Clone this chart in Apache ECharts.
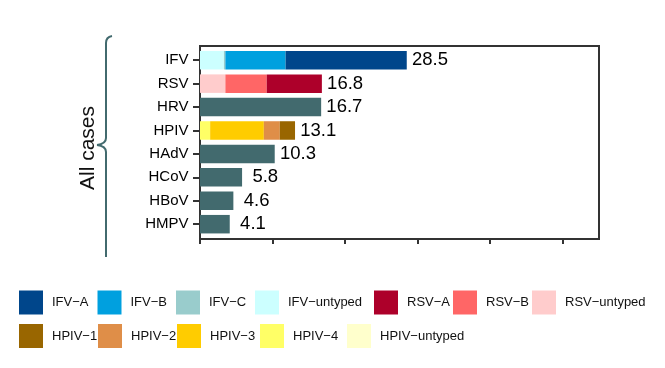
<!DOCTYPE html>
<html>
<head>
<meta charset="utf-8">
<script src="https://cdn.jsdelivr.net/npm/echarts@6/dist/echarts.min.js"></script>
<style>html,body{margin:0;padding:0;background:#fff}#c{width:665px;height:368px}</style>
</head>
<body>
<div id="c"></div>
<script>
var categories = ['IFV', 'RSV', 'HRV', 'HPIV', 'HAdV', 'HCoV', 'HBoV', 'HMPV'];
var totals = [28.5, 16.8, 16.7, 13.1, 10.3, 5.8, 4.6, 4.1];
var xTicks = [0, 10, 20, 30, 40, 50];
var xMax = 55;

var ifvUntyped = [3.3, null, null, null, null, null, null, null];
var ifvC = [0.2, null, null, null, null, null, null, null];
var ifvB = [8.3, null, null, null, null, null, null, null];
var ifvA = [16.7, null, null, null, null, null, null, null];
var rsvUntyped = [null, 3.5, null, null, null, null, null, null];
var rsvB = [null, 5.7, null, null, null, null, null, null];
var rsvA = [null, 7.6, null, null, null, null, null, null];
var hpivUntyped = [null, null, null, 0, null, null, null, null];
var hpiv4 = [null, null, null, 1.4, null, null, null, null];
var hpiv3 = [null, null, null, 7.4, null, null, null, null];
var hpiv2 = [null, null, null, 2.2, null, null, null, null];
var hpiv1 = [null, null, null, 2.1, null, null, null, null];
var others = [null, null, 16.7, null, 10.3, 5.8, 4.6, 4.1];

var legendRow1 = ['IFV\u2212A', 'IFV\u2212B', 'IFV\u2212C', 'IFV\u2212untyped', 'RSV\u2212A', 'RSV\u2212B', 'RSV\u2212untyped'];
var legendRow2 = ['HPIV\u22121', 'HPIV\u22122', 'HPIV\u22123', 'HPIV\u22124', 'HPIV\u2212untyped'];

var FONT = 'Liberation Sans, Arial, Helvetica, sans-serif';
var colors = {
  'IFV\u2212A': '#00468B', 'IFV\u2212B': '#00A0DF', 'IFV\u2212C': '#99CCCC', 'IFV\u2212untyped': '#CCFFFF',
  'RSV\u2212A': '#AD002A', 'RSV\u2212B': '#FF6666', 'RSV\u2212untyped': '#FFCCCC',
  'HPIV\u22121': '#996600', 'HPIV\u22122': '#DF8E48', 'HPIV\u22123': '#FFCC00', 'HPIV\u22124': '#FFFF66', 'HPIV\u2212untyped': '#FFFFCC',
  'other': '#426A6E'
};

var stackSeries = [
  ['IFV\u2212untyped', ifvUntyped], ['IFV\u2212C', ifvC], ['IFV\u2212B', ifvB], ['IFV\u2212A', ifvA],
  ['RSV\u2212untyped', rsvUntyped], ['RSV\u2212B', rsvB], ['RSV\u2212A', rsvA],
  ['HPIV\u2212untyped', hpivUntyped], ['HPIV\u22124', hpiv4], ['HPIV\u22123', hpiv3], ['HPIV\u22122', hpiv2], ['HPIV\u22121', hpiv1],
  ['other', others]
];

var series = stackSeries.map(function (s) {
  return {
    name: s[0], type: 'bar', stack: 'total', xAxisIndex: 1, yAxisIndex: 1,
    barWidth: '79%',
    data: s[1].map(function (v) { return v === null ? '-' : v; }),
    itemStyle: { color: colors[s[0]] },
    emphasis: { disabled: true }
  };
});

series.push({
  name: 'labels', type: 'scatter', xAxisIndex: 1, yAxisIndex: 1,
  symbolSize: 1, itemStyle: { color: 'rgba(255,255,255,0)' },
  data: categories.map(function (c, i) { return { value: [totals[i] + 3.2, c], total: totals[i] }; }),
  label: {
    show: true, position: 'inside', fontSize: 18.5, fontFamily: FONT, color: '#000',
    opacity: 1, textBorderWidth: 0, textBorderColor: 'transparent',
    formatter: function (p) { return p.data.total.toFixed(1); }
  },
  emphasis: { disabled: true },
  z: 5
});

var row1Left = [19, 97.5, 176, 255, 374, 453, 532];
var row2Left = [19, 98, 177, 260, 347];
var legends = [];
function addLegend(name, left, top) {
  legends.push({
    data: [name], left: left, top: top, padding: 0, itemWidth: 24, itemHeight: 24,
    icon: 'rect', selectedMode: false,
    textStyle: { fontSize: 13, fontFamily: FONT, color: '#111', padding: [0, 0, 0, 4] }
  });
}
legendRow1.forEach(function (n, i) { addLegend(n, row1Left[i], 290.5); });
legendRow2.forEach(function (n, i) { addLegend(n, row2Left[i], 324); });

var braceStyle = { stroke: '#426A6E', lineWidth: 2, fill: null };
var option = {
  animation: false,
  backgroundColor: '#fff',
  grid: [
    { left: 200, top: 46, width: 399, height: 193, show: true, borderColor: '#333', borderWidth: 2, backgroundColor: 'transparent' },
    { left: 200, top: 48.5, width: 399, height: 187.4 }
  ],
  xAxis: [
    { type: 'value', gridIndex: 0, min: 0, max: xMax, interval: 10,
      axisLine: { show: true, lineStyle: { color: '#333', width: 2 } },
      axisTick: { show: true, length: 5, customValues: xTicks, lineStyle: { color: '#333', width: 2 } },
      axisLabel: { show: false }, splitLine: { show: false } },
    { type: 'value', gridIndex: 1, min: 0, max: xMax, show: false, splitLine: { show: false } }
  ],
  yAxis: [
    { type: 'value', gridIndex: 0, min: 0, max: 1, axisLine: { show: false }, axisTick: { show: false }, axisLabel: { show: false }, splitLine: { show: false } },
    { type: 'category', gridIndex: 1, data: categories, inverse: true,
      axisLine: { show: false },
      axisTick: { show: true, alignWithLabel: true, length: 7, lineStyle: { color: '#333', width: 2 } },
      axisLabel: { fontSize: 15, fontFamily: FONT, color: '#000', margin: 11.5 } }
  ],
  legend: legends,
  graphic: [
    { type: 'bezierCurve', shape: { x1: 112, y1: 36, cpx1: 106, cpy1: 37, x2: 106, y2: 43 }, style: braceStyle },
    { type: 'line', shape: { x1: 106, y1: 43, x2: 106, y2: 138 }, style: braceStyle },
    { type: 'bezierCurve', shape: { x1: 106, y1: 138, cpx1: 106, cpy1: 144, x2: 97, y2: 145 }, style: braceStyle },
    { type: 'bezierCurve', shape: { x1: 97, y1: 145, cpx1: 106, cpy1: 146, x2: 106, y2: 152 }, style: braceStyle },
    { type: 'line', shape: { x1: 106, y1: 152, x2: 106, y2: 257 }, style: braceStyle },
    { type: 'text', x: 88, y: 148, rotation: Math.PI / 2,
      style: { text: 'All cases', fontSize: 21, fontFamily: FONT, fill: '#111', align: 'center', verticalAlign: 'middle' } }
  ],
  series: series
};

var chart = echarts.init(document.getElementById('c'), null, { renderer: 'canvas' });
chart.setOption(option);
</script>
</body>
</html>
